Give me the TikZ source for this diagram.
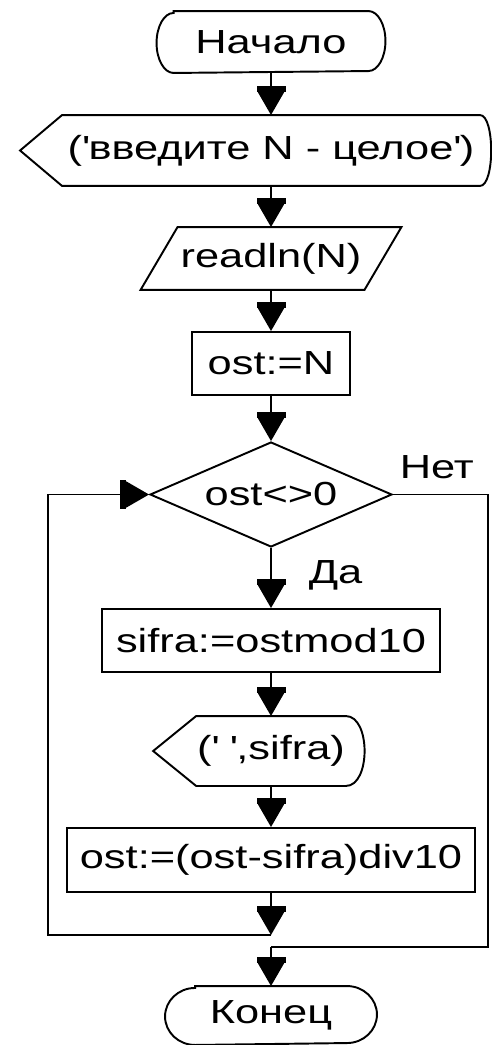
\documentclass[tikz,border=0pt]{standalone}
\usepackage{fontspec}
\setmainfont{Liberation Sans}[FakeStretch=1.3]
\usetikzlibrary{arrows.meta,shapes.geometric}

\begin{document}
\begin{tikzpicture}[x=0.02cm,y=-0.02cm,line width=1.1pt,
  font=\fontsize{19}{22}\selectfont,
  arr/.style={-{Rectangle[length=0.12cm,width=0.58cm]Triangle[length=0.46cm,width=0.52cm]}},
  blk/.style={draw,rectangle,inner sep=0pt,minimum height=1.26cm},
  body/.style={rectangle,inner sep=0pt},
  lbl/.style={anchor=base west}]
  \useasboundingbox (0,0) rectangle (491,1045);

  \node[body,minimum width=3.86cm,minimum height=1.2cm] (start) at (271,42) {Начало};
  \draw (start.north west) -- (start.north east) arc[start angle=-90,end angle=90,x radius=17,y radius=30]
     -- (start.south west) arc[start angle=90,end angle=270,x radius=17,y radius=30] -- cycle;

  \node[body,minimum width=8.32cm,minimum height=1.38cm] (ask) at (271,150.5)
     {(\textquotesingle введите N - целое\textquotesingle)};
  \draw (ask.north west) -- (ask.north east) .. controls +(15,0) and +(15,0) .. (ask.south east)
     -- (ask.south west) -- ([shift={(-42,0)}]ask.west) -- cycle;

  \node[body,minimum width=4.44cm,minimum height=1.22cm] (inp) at (271,258.5) {readln(N)};
  \draw ([shift={(18.5,0)}]inp.north west) -- ([shift={(18.5,0)}]inp.north east)
     -- ([shift={(-18.5,0)}]inp.south east) -- ([shift={(-18.5,0)}]inp.south west) -- cycle;

  \node[blk,minimum width=3.16cm] (init) at (271,363.5) {ost:=N};
  \node[draw,diamond,aspect=2.3,minimum width=4.84cm,minimum height=2.1cm,inner sep=0pt] (cond) at (271,494.5) {ost<>0};
  \node[blk,minimum width=6.76cm] (digit) at (271,640.5) {sifra:=ostmod10};

  \node[body,minimum width=2.86cm,minimum height=1.36cm] (show) at (271,751)
     {(\textquotesingle\ \textquotesingle,sifra)};
  \draw (show.north west) -- (show.north east) .. controls +(25,0) and +(25,0) .. (show.south east)
     -- (show.south west) -- ([shift={(-43,0)}]show.west) -- cycle;

  \node[blk,minimum width=8.16cm,minimum height=1.28cm] (upd) at (271,860) {ost:=(ost-sifra)div10};

  \node[body,minimum width=3cm,minimum height=1.14cm] (stop) at (271,1015.5) {Конец};
  \draw (stop.north west) -- (stop.north east) arc[start angle=-90,end angle=90,x radius=30,y radius=28.5]
     -- (stop.south west) arc[start angle=90,end angle=270,x radius=30,y radius=28.5] -- cycle;

  \node[lbl] (yes) at (302,583) {Да};
  \node[lbl] (no) at (393,478) {Нет};

  \coordinate (j1) at (271,935);
  \coordinate (j2) at (271,947);
  \coordinate (lbot) at (48,935);
  \coordinate (ltop) at (48,494.5);
  \coordinate (rtop) at (488,494.5);
  \coordinate (rbot) at (488,947);

  \draw[arr] (start) -- (ask);
  \draw[arr] (ask) -- (inp);
  \draw[arr] (inp) -- (init);
  \draw[arr] (init) -- (cond);
  \draw[arr] (cond) -- (digit);
  \draw[arr] (digit) -- (show);
  \draw[arr] (show) -- (upd);
  \draw[arr] (upd) -- (j1);
  \draw[arr] (j1) -- (lbot) -- (ltop) -- (cond.west);
  \draw (cond.east) -- (rtop) -- (rbot) -- (j2);
  \draw[arr] (j2) -- (stop);
\end{tikzpicture}
\end{document}
